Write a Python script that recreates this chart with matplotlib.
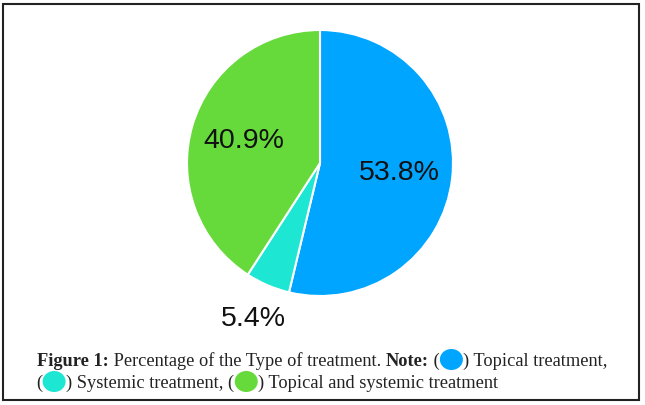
import matplotlib
matplotlib.use("Agg")
from matplotlib import pyplot as plt
from matplotlib.patches import Rectangle, Ellipse
import numpy as np

# data
labels = ["Topical treatment", "Systemic treatment", "Topical and systemic treatment"]
values = [53.8, 5.4, 40.9]
pct_text = ["53.8%", "5.4%", "40.9%"]
colors = ["#00a5ff", "#1de6d2", "#66d93b"]

W, H = 645, 406
fig = plt.figure(figsize=(W / 100, H / 100), dpi=100)

# frame around the figure
fig.patches.append(Rectangle((3 / W, 5 / H), 636 / W, 396 / H, transform=fig.transFigure,
                             fill=False, edgecolor="#222222", linewidth=1.5))

cx, cy, r = 320, 164, 133
ax = fig.add_axes([(cx - r) / W, (H - cy - r) / H, 2 * r / W, 2 * r / H])
wedges, _ = ax.pie(values, colors=colors, startangle=90, counterclock=False,
                   wedgeprops=dict(edgecolor="white", linewidth=1.5))
ax.set_xlim(-1, 1)
ax.set_ylim(-1, 1)

for w, t in zip(wedges, pct_text):
    mid = np.deg2rad((w.theta1 + w.theta2) / 2)
    d = 1.27 if t == "5.4%" else 0.6
    ax.text(d * np.cos(mid), d * np.sin(mid), t, ha="center", va="center",
            fontsize=20.5, family="Liberation Sans", color="#111111")

# caption, built piece by piece
serif = "Liberation Serif"
fs = 13.25
renderer = fig.canvas.get_renderer()


def put(x, y, s, bold=False):
    t = fig.text(x / W, 1 - y / H, s, fontsize=fs, family=serif,
                 weight="bold" if bold else "normal", va="baseline", color="#222222")
    bb = t.get_window_extent(renderer)
    return x + bb.width


def dot(x, y, c):
    fig.patches.append(Ellipse((x + 12, H - y + 5.5), 23, 21, transform=None,
                               facecolor=c, edgecolor="none"))
    return x + 24


y1, y2 = 366, 388
x = put(37, y1, "Figure 1:", bold=True)
x = put(x, y1, " Percentage of the Type of treatment. ")
x = put(x, y1, "Note:", bold=True)
x = put(x, y1, " (")
x = dot(x, y1, colors[0])
x = put(x, y1, ") " + labels[0] + ",")

x = put(36, y2, "(")
x = dot(x, y2, colors[1])
x = put(x, y2, ") " + labels[1] + ", (")
x = dot(x, y2, colors[2])
x = put(x, y2, ") " + labels[2])

fig.savefig("out.png", dpi=100)
